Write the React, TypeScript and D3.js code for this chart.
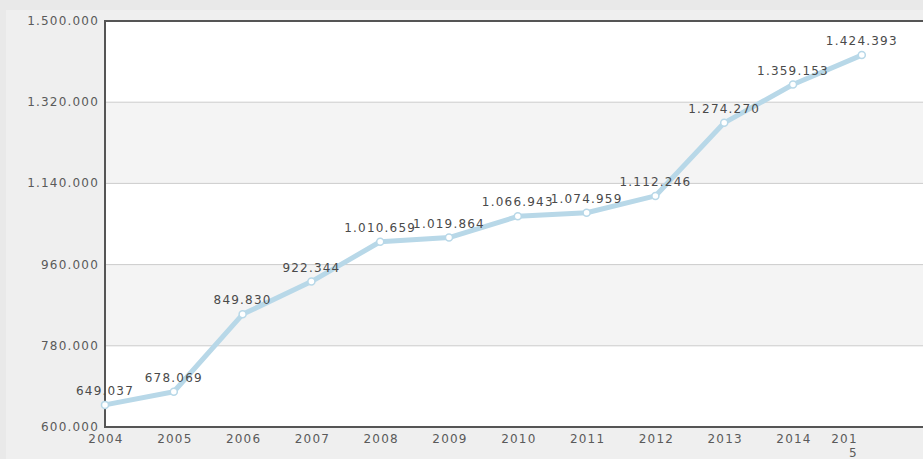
import React from "react";
import * as d3 from "d3";

const years = ["2004","2005","2006","2007","2008","2009","2010","2011","2012","2013","2014","2015"];
const values = [649037, 678069, 849830, 922344, 1010659, 1019864, 1066943, 1074959, 1112246, 1274270, 1359153, 1424393];
const yTicks = [600000, 780000, 960000, 1140000, 1320000, 1500000];

const W = 923, H = 459;
const left = 105, right = 923, top = 21, bottom = 427;

function fmt(v: number) {
  return d3.format(",")(v).replace(/,/g, ".");
}

export default function App() {
  const x = d3.scalePoint<string>().domain(years).range([left, left + 68.8 * 11]);
  const y = d3.scaleLinear().domain([600000, 1500000]).range([bottom, top]);
  const line = d3.line<number>().x((_, i) => x(years[i])!).y((d) => y(d));
  const font = "'DejaVu Sans', Verdana, sans-serif";
  const bands = [] as { y0: number; y1: number; shade: boolean }[];
  for (let i = 0; i < yTicks.length - 1; i++) {
    bands.push({ y0: yTicks[i], y1: yTicks[i + 1], shade: i % 2 === 1 });
  }
  const lastX = x(years[years.length - 1])! - 4;
  return (
    <svg width={W} height={H} style={{ position: "absolute", left: 0, top: 0, display: "block" }}>
      <rect x={0} y={0} width={W} height={H} fill="#e9e9e9" />
      <rect x={6} y={10} width={W - 6} height={H - 10} fill="#efefef" />
      {bands.map((b, i) => (
        <rect key={i} x={left} y={y(b.y1)} width={right - left} height={y(b.y0) - y(b.y1)} fill={b.shade ? "#f4f4f4" : "#ffffff"} />
      ))}
      {yTicks.slice(1, -1).map((t) => (
        <line key={t} x1={left} x2={right} y1={y(t)} y2={y(t)} stroke="#cccccc" strokeWidth={1} />
      ))}
      <path d={`M${right},${top}H${left}V${bottom}H${right}`} fill="none" stroke="#555" strokeWidth={2} />
      {yTicks.map((t) => (
        <text key={t} x={left - 6} y={y(t) + 4} textAnchor="end" fontFamily={font} fontSize={12} letterSpacing={1.2} fill="#5a5a5a">
          {fmt(t)}
        </text>
      ))}
      {years.map((yr, i) =>
        i < years.length - 1 ? (
          <text key={yr} x={x(yr)! + 1} y={bottom + 16} textAnchor="middle" fontFamily={font} fontSize={12} letterSpacing={1.2} fill="#5a5a5a">
            {yr}
          </text>
        ) : (
          <g key={yr}>
            <text x={lastX} y={bottom + 16} textAnchor="end" fontFamily={font} fontSize={12} letterSpacing={1.2} fill="#5a5a5a">
              {yr.slice(0, 3)}
            </text>
            <text x={lastX} y={bottom + 30} textAnchor="end" fontFamily={font} fontSize={12} letterSpacing={1.2} fill="#5a5a5a">
              {yr.slice(3)}
            </text>
          </g>
        )
      )}
      <path d={line(values) || ""} fill="none" stroke="#b8d8e8" strokeWidth={5} strokeLinejoin="round" strokeLinecap="round" />
      {values.map((v, i) => (
        <circle key={i} cx={x(years[i])!} cy={y(v)} r={3.5} fill="#ffffff" stroke="#b8d8e8" strokeWidth={1.5} />
      ))}
      {values.map((v, i) => (
        <text key={"l" + i} x={x(years[i])!} y={y(v) - 10} textAnchor="middle" fontFamily={font} fontSize={12} letterSpacing={1.2} fill="#4a4a4a">
          {fmt(v)}
        </text>
      ))}
    </svg>
  );
}
